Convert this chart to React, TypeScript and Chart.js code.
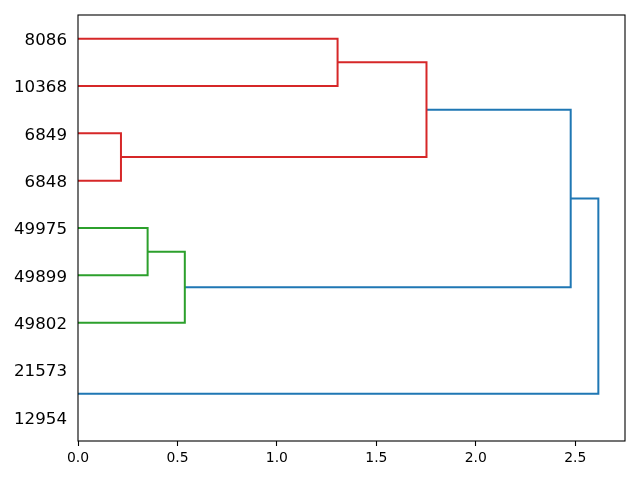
import React, { useEffect, useRef } from "react";
import { Chart, registerables } from "chart.js";

Chart.register(...registerables);

// Leaf labels, bottom (y=5) to top (y=85)
const leafLabels = ["12954", "21573", "49802", "49899", "49975", "6848", "6849", "10368", "8086"];
const leafPositions = [5, 15, 25, 35, 45, 55, 65, 75, 85];

// scipy-style link coordinates: icoord (leaf axis) and dcoord (distance)
const icoord = [
  [55, 55, 65, 65],
  [75, 75, 85, 85],
  [60, 60, 80, 80],
  [35, 35, 45, 45],
  [25, 25, 40, 40],
  [32.5, 32.5, 70, 70],
  [10, 10, 51.25, 51.25],
];
const dcoord = [
  [0, 0.216, 0.216, 0],
  [0, 1.305, 1.305, 0],
  [0.216, 1.752, 1.752, 1.305],
  [0, 0.35, 0.35, 0],
  [0, 0.537, 0.537, 0.35],
  [0.537, 2.477, 2.477, 1.752],
  [0, 2.616, 2.616, 2.477],
];
const linkColors = ["#d62728", "#d62728", "#d62728", "#2ca02c", "#2ca02c", "#1f77b4", "#1f77b4"];

const xTickValues = [0, 0.5, 1.0, 1.5, 2.0, 2.5];
const xMax = 2.75;
const yMax = 90;

const frame = {
  id: "frame",
  afterDatasetsDraw(chart: any) {
    const { ctx, chartArea } = chart;
    ctx.save();
    ctx.strokeStyle = "#000";
    ctx.lineWidth = 1.1;
    ctx.strokeRect(chartArea.left, chartArea.top, chartArea.right - chartArea.left, chartArea.bottom - chartArea.top);
    ctx.restore();
  },
};

export default function App() {
  const ref = useRef<HTMLCanvasElement | null>(null);
  useEffect(() => {
    if (!ref.current) return;
    const datasets = icoord.map((ys, i) => ({
      data: ys.map((y, j) => ({ x: dcoord[i][j], y })),
      borderColor: linkColors[i],
      borderWidth: 2,
      showLine: true,
      pointRadius: 0,
      fill: false,
      tension: 0,
      borderCapStyle: "butt" as const,
    }));
    const chart = new Chart(ref.current, {
      type: "scatter",
      data: { datasets },
      plugins: [frame],
      options: {
        animation: false,
        responsive: false,
        events: [],
        layout: { padding: { top: 15, right: 15, left: 0, bottom: 0 } },
        plugins: { legend: { display: false }, tooltip: { enabled: false } },
        scales: {
          x: {
            type: "linear",
            min: 0,
            max: xMax,
            afterBuildTicks: (s: any) => {
              s.ticks = xTickValues.map((v) => ({ value: v }));
            },
            afterFit: (s: any) => {
              s.height = 39;
              s.paddingLeft = 0;
              s.paddingRight = 0;
            },
            grid: { drawOnChartArea: false, drawTicks: true, tickLength: 5, tickColor: "#000", tickWidth: 1.1 },
            border: { display: false },
            ticks: {
              color: "#000",
              padding: 4,
              maxRotation: 0,
              font: { family: "DejaVu Sans", size: 13.9 },
              callback: (v: any) => Number(v).toFixed(1),
            },
          },
          y: {
            type: "linear",
            min: 0,
            max: yMax,
            afterBuildTicks: (s: any) => {
              s.ticks = leafPositions.map((v) => ({ value: v }));
            },
            afterFit: (s: any) => {
              s.width = 78;
              s.paddingTop = 0;
              s.paddingBottom = 0;
            },
            grid: { drawOnChartArea: false, drawTicks: false },
            border: { display: false },
            ticks: {
              color: "#000",
              padding: 11,
              labelOffset: 2,
              font: { family: "DejaVu Sans", size: 16.67 },
              callback: (v: any) => {
                const i = leafPositions.indexOf(Number(v));
                return i >= 0 ? leafLabels[i] : "";
              },
            },
          },
        },
      },
    });
    return () => chart.destroy();
  }, []);
  return (
    <div style={{ position: "fixed", left: 0, top: 0, width: 640, height: 480, background: "#fff" }}>
      <canvas ref={ref} width={640} height={480} />
    </div>
  );
}
